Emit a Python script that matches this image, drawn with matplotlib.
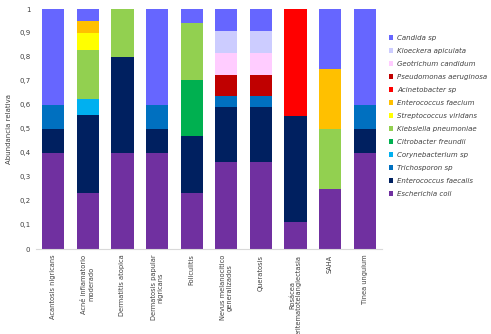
import matplotlib
matplotlib.use('Agg')
import matplotlib.pyplot as plt
import numpy as np

categories = ['Acantosis nigricans', 'Acné inflamatorio\nmoderado', 'Dermatitis atopica',
              'Dermatosis papular\nnigricans', 'Foliculitis', 'Nevus melanocitico\ngeneralizados',
              'Queratosis', 'Rosácea\neritematotelangiectasia', 'SAHA', 'Tinea unguium']

# stacking order, bottom to top
species = ['Escherichia coli', 'Enterococcus faecalis', 'Trichosporon sp', 'Corynebacterium sp',
           'Citrobacter freundii', 'Klebsiella pneumoniae', 'Streptococcus viridans',
           'Enterococcus faecium', 'Acinetobacter sp', 'Pseudomonas aeruginosa',
           'Geotrichum candidum', 'Kloeckera apiculata', 'Candida sp']
colors = ['#7030A0', '#002060', '#0070C0', '#00B0F0', '#00B050', '#92D050', '#FFFF00',
          '#FFC000', '#FF0000', '#C00000', '#FFCCFF', '#CCCCFF', '#6666FF']

e_coli        = [0.40, 0.235, 0.40, 0.40, 0.235, 0.364, 0.364, 0.111, 0.25, 0.40]
e_faecalis    = [0.10, 0.323, 0.40, 0.10, 0.235, 0.227, 0.227, 0.444, 0.00, 0.10]
trichosporon  = [0.10, 0.000, 0.00, 0.10, 0.000, 0.045, 0.045, 0.000, 0.00, 0.10]
corynebact    = [0.00, 0.068, 0.00, 0.00, 0.000, 0.000, 0.000, 0.000, 0.00, 0.00]
citrobacter   = [0.00, 0.000, 0.00, 0.00, 0.236, 0.000, 0.000, 0.000, 0.00, 0.00]
klebsiella    = [0.00, 0.204, 0.20, 0.00, 0.235, 0.000, 0.000, 0.000, 0.25, 0.00]
streptococcus = [0.00, 0.070, 0.00, 0.00, 0.000, 0.000, 0.000, 0.000, 0.00, 0.00]
e_faecium     = [0.00, 0.050, 0.00, 0.00, 0.000, 0.000, 0.000, 0.000, 0.25, 0.00]
acinetobacter = [0.00, 0.000, 0.00, 0.00, 0.000, 0.000, 0.000, 0.445, 0.00, 0.00]
pseudomonas   = [0.00, 0.000, 0.00, 0.00, 0.000, 0.091, 0.091, 0.000, 0.00, 0.00]
geotrichum    = [0.00, 0.000, 0.00, 0.00, 0.000, 0.091, 0.091, 0.000, 0.00, 0.00]
kloeckera     = [0.00, 0.000, 0.00, 0.00, 0.000, 0.091, 0.091, 0.000, 0.00, 0.00]
candida       = [0.40, 0.050, 0.00, 0.40, 0.059, 0.091, 0.091, 0.000, 0.25, 0.40]

values = [e_coli, e_faecalis, trichosporon, corynebact, citrobacter, klebsiella,
          streptococcus, e_faecium, acinetobacter, pseudomonas, geotrichum, kloeckera, candida]

fig = plt.figure(figsize=(4.91, 3.34), dpi=100)
ax = fig.add_axes([36 / 491, 1 - 249 / 334, 346 / 491, 240 / 334])

x = np.arange(len(categories))
bottom = np.zeros(len(categories))
handles = []
for name, col, vals in zip(species, colors, values):
    b = ax.bar(x, vals, 0.64, bottom=bottom, color=col, label=name)
    handles.append(b)
    bottom += np.array(vals)

ax.set_xlim(-0.5, len(categories) - 0.5)
ax.set_ylim(0, 1)
yt = np.arange(0, 1.01, 0.1)
ax.set_yticks(yt)
ax.set_yticklabels(['0' if v == 0 else ('1' if v == 1 else ('%.1f' % v).replace('.', ','))
                    for v in yt], fontsize=5, color='#404040')
ax.set_xticks(x)
ax.set_xticklabels(categories, rotation=90, fontsize=4.8, color='#404040',
                   ha='center', va='top', multialignment='center')
ax.tick_params(length=0, pad=4)
ax.set_ylabel('Abundancia relativa', fontsize=5, color='#404040', labelpad=5)

for s in ['left', 'right', 'top']:
    ax.spines[s].set_visible(False)
ax.spines['bottom'].set_color('#D9D9D9')
ax.spines['bottom'].set_linewidth(0.8)

leg = fig.legend(handles[::-1], species[::-1], loc='upper left',
                 bbox_to_anchor=(389 / 491, 1 - 35 / 334), frameon=False,
                 prop={'size': 5, 'style': 'italic'}, handlelength=0.6, handleheight=0.6,
                 handletextpad=0.6, labelspacing=1.0, borderaxespad=0, borderpad=0)
for t in leg.get_texts():
    t.set_color('#404040')

fig.savefig('out.png', dpi=100)
